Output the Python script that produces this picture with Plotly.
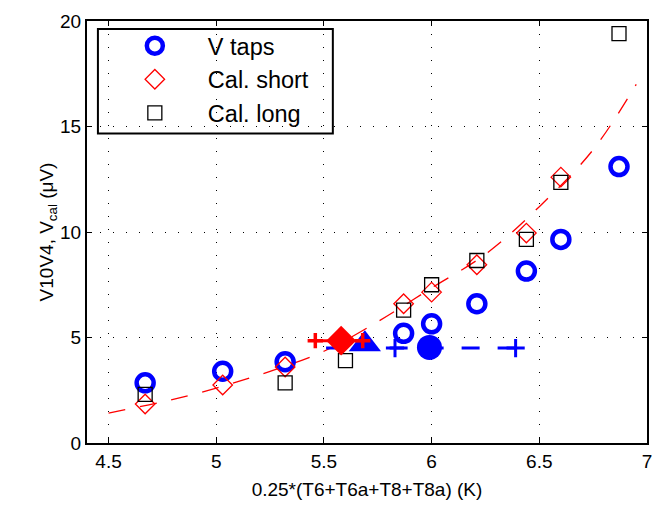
import plotly.graph_objects as go

# V taps (blue circles)
vt_x = [4.67, 5.03, 5.32, 5.87, 6.00, 6.21, 6.44, 6.60, 6.87]
vt_y = [2.85, 3.40, 3.85, 5.20, 5.65, 6.60, 8.15, 9.65, 13.10]
# Cal. short (red diamonds)
cs_x = [4.67, 5.03, 5.32, 5.87, 6.00, 6.21, 6.44, 6.60]
cs_y = [1.85, 2.75, 3.60, 6.60, 7.15, 8.45, 9.95, 12.60]
# Cal. long (black squares)
cl_x = [4.67, 5.32, 5.60, 5.87, 6.00, 6.21, 6.44, 6.60, 6.87]
cl_y = [2.30, 2.85, 3.90, 6.30, 7.50, 8.65, 9.65, 12.35, 19.40]
# red dashed fit curve
fit_x = [4.50, 4.75, 5.00, 5.25, 5.50, 5.75, 6.00, 6.25, 6.50, 6.75, 6.95]
fit_y = [1.42, 1.95, 2.60, 3.40, 4.35, 5.75, 7.35, 8.95, 11.20, 13.90, 17.00]
# blue horizontal range (dashed) with pluses
bl_x = [6.39, 5.51]
bl_y = [4.50, 4.50]
bp_x = [5.83, 6.39]
bp_y = [4.50, 4.50]
tri_x, tri_y = [5.69], [4.68]
bc_x, bc_y = [5.99], [4.53]
# red horizontal range with pluses
rl_x = [5.46, 5.68]
rl_y = [4.85, 4.85]
rd_x, rd_y = [5.58], [4.85]

xticks = [4.5, 5, 5.5, 6, 6.5, 7]
yticks = [0, 5, 10, 15, 20]

fig = go.Figure()
fig.add_trace(go.Scatter(x=fit_x, y=fit_y, mode="lines",
                         line=dict(color="red", width=1.3, dash="17px,15px", shape="spline"), showlegend=False))
fig.add_trace(go.Scatter(x=bl_x, y=bl_y, mode="lines",
                         line=dict(color="blue", width=3, dash="18px,18px"), showlegend=False))
fig.add_trace(go.Scatter(x=bp_x, y=bp_y, mode="markers",
                         marker=dict(symbol="cross-thin-open", size=13, color="blue", line=dict(color="blue", width=3)),
                         showlegend=False))

fig.add_trace(go.Scatter(x=vt_x, y=vt_y, mode="markers", name="V taps",
                         marker=dict(symbol="circle-open", size=17, color="blue", line=dict(color="blue", width=4.5))))
fig.add_trace(go.Scatter(x=cs_x, y=cs_y, mode="markers", name="Cal. short",
                         marker=dict(symbol="diamond-open", size=15, color="red", line=dict(color="red", width=1.3))))
fig.add_trace(go.Scatter(x=cl_x, y=cl_y, mode="markers", name="Cal. long",
                         marker=dict(symbol="square-open", size=14, color="black", line=dict(color="black", width=1.3))))

fig.add_trace(go.Scatter(x=tri_x, y=tri_y, mode="markers",
                         marker=dict(symbol="triangle-up", size=28, color="blue"), showlegend=False))
fig.add_trace(go.Scatter(x=bc_x, y=bc_y, mode="markers",
                         marker=dict(symbol="circle", size=25, color="blue"), showlegend=False))
fig.add_trace(go.Scatter(x=rl_x, y=rl_y, mode="lines+markers", line=dict(color="red", width=3),
                         marker=dict(symbol="cross-thin-open", size=11, color="red", line=dict(color="red", width=3.5)),
                         showlegend=False))
fig.add_trace(go.Scatter(x=rd_x, y=rd_y, mode="markers",
                         marker=dict(symbol="diamond", size=23, color="red"),
                         showlegend=False))

axis_common = dict(showline=True, linecolor="black", linewidth=2, mirror="ticks", ticks="inside",
                   ticklen=5, tickcolor="black", showgrid=True, gridcolor="black", gridwidth=1.2,
                   griddash="1.2px,11.8px", zeroline=False, tickfont=dict(size=19, color="black"))
fig.update_xaxes(range=[4.4, 7], tickvals=xticks, ticktext=[str(v) for v in xticks],
                 title=dict(text="0.25*(T6+T6a+T8+T8a) (K)", font=dict(size=19, color="black"), standoff=12),
                 **axis_common)
fig.update_yaxes(range=[0, 20], tickvals=yticks, ticktext=[str(v) for v in yticks],
                 title=dict(text="V10V4, V<sub>cal</sub> (μV)", font=dict(size=19, color="black"), standoff=0),
                 **axis_common)

# legend frame (drawn above the grid, below the marks)
fig.add_shape(type="rect", xref="paper", yref="paper", x0=0.0195, x1=0.439, y0=0.7336, y1=0.9813,
              fillcolor="white", line=dict(color="black", width=2), layer="between")

fig.update_layout(
    width=663, height=508, plot_bgcolor="white", paper_bgcolor="white",
    margin=dict(l=87, r=11, t=18, b=62),
    font=dict(family="Liberation Sans, Arial, sans-serif", color="black"),
    legend=dict(x=0.0265, y=0.993, xanchor="left", yanchor="top", bgcolor="rgba(0,0,0,0)",
                borderwidth=0, font=dict(size=23.5, color="black"),
                itemwidth=96, tracegroupgap=0),
)
fig.write_html("out.html")
